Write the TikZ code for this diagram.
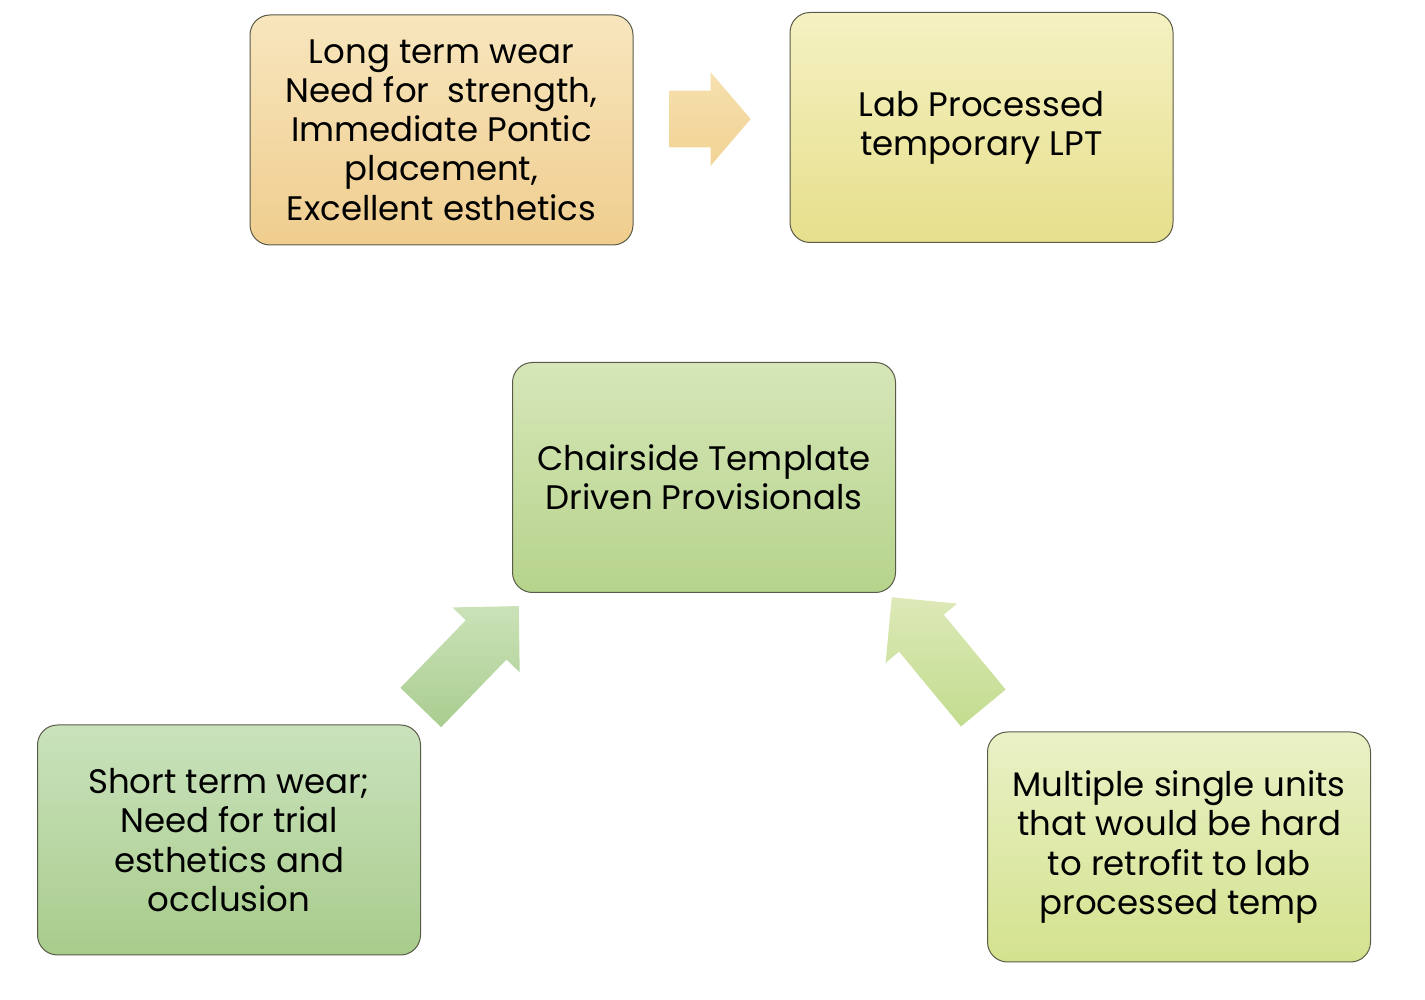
\documentclass[tikz,border=0pt]{standalone}
\usepackage{fontspec}
\setmainfont{Poppins}
\usetikzlibrary{arrows,shapes,positioning}
\definecolor{edgegray}{HTML}{5A5A48}
\definecolor{orangetop}{HTML}{F8E6BE}
\definecolor{orangebot}{HTML}{EFCD8E}
\definecolor{yellowtop}{HTML}{F5F1C2}
\definecolor{yellowbot}{HTML}{E6DF8C}
\definecolor{greentop}{HTML}{D6E6B8}
\definecolor{greenbot}{HTML}{B6D48C}
\definecolor{leaftop}{HTML}{CAE2BC}
\definecolor{leafbot}{HTML}{A8CC8C}
\definecolor{limetop}{HTML}{EAF1C6}
\definecolor{limebot}{HTML}{D3E28E}
\definecolor{arrowtopA}{HTML}{F6E0AE}
\definecolor{arrowbotA}{HTML}{F1D394}
\definecolor{arrowtopB}{HTML}{CBE2B8}
\definecolor{arrowbotB}{HTML}{A9CD90}
\definecolor{arrowtopC}{HTML}{DDE9B8}
\definecolor{arrowbotC}{HTML}{C2DC8E}
\tikzstyle{box}=[rectangle,rounded corners=10pt,draw=edgegray,line width=0.5pt,minimum width=191.5pt,minimum height=115pt,align=center,inner sep=0pt,font=\fontsize{17pt}{19.6pt}\selectfont]
\tikzstyle{block arrow}=[draw=none]

\begin{document}
\begin{tikzpicture}[x=0.5pt,y=0.5pt]
    \useasboundingbox (0,0) rectangle (1425,1000);
    % First we draw the boxes
    \node[box,top color=orangetop,bottom color=orangebot] (longterm) at (441.5,870) {Long term wear\\Need for\ \ strength,\\Immediate Pontic\\placement,\\Excellent esthetics};
    \node[box,top color=yellowtop,bottom color=yellowbot] (labtemp) at (981.5,872.5) {Lab Processed\\temporary LPT};
    \node[box,top color=greentop,bottom color=greenbot] (chairside) at (704,522.5) {Chairside Template\\Driven Provisionals};
    \node[box,top color=leaftop,bottom color=leafbot] (shortterm) at (229,160) {Short term wear;\\Need for trial\\esthetics and\\occlusion};
    \node[box,top color=limetop,bottom color=limebot] (multiunit) at (1179,153) {Multiple single units\\that would be hard\\to retrofit to lab\\processed temp};

    % Block arrows: base/angle/length/head length/head half/shaft half/colours
    \foreach \pos/\ang/\len/\hl/\hw/\sw/\ca/\cb in {{(669.3,881)/0/81.4/40/46.7/28.3/arrowtopA/arrowbotA}, {(420.8,292.5)/46/141/47/46.7/28.3/arrowtopB/arrowbotB}, {(983.3,292)/129.6/143.7/46.6/46.4/29/arrowtopC/arrowbotC}}
        \path[block arrow,shift={\pos},rotate=\ang,top color=\ca,bottom color=\cb]
            (0,-\sw) -- (\len-\hl,-\sw) -- (\len-\hl,-\hw) -- (\len,0) -- (\len-\hl,\hw) -- (\len-\hl,\sw) -- (0,\sw) -- cycle;
\end{tikzpicture}
\end{document}
